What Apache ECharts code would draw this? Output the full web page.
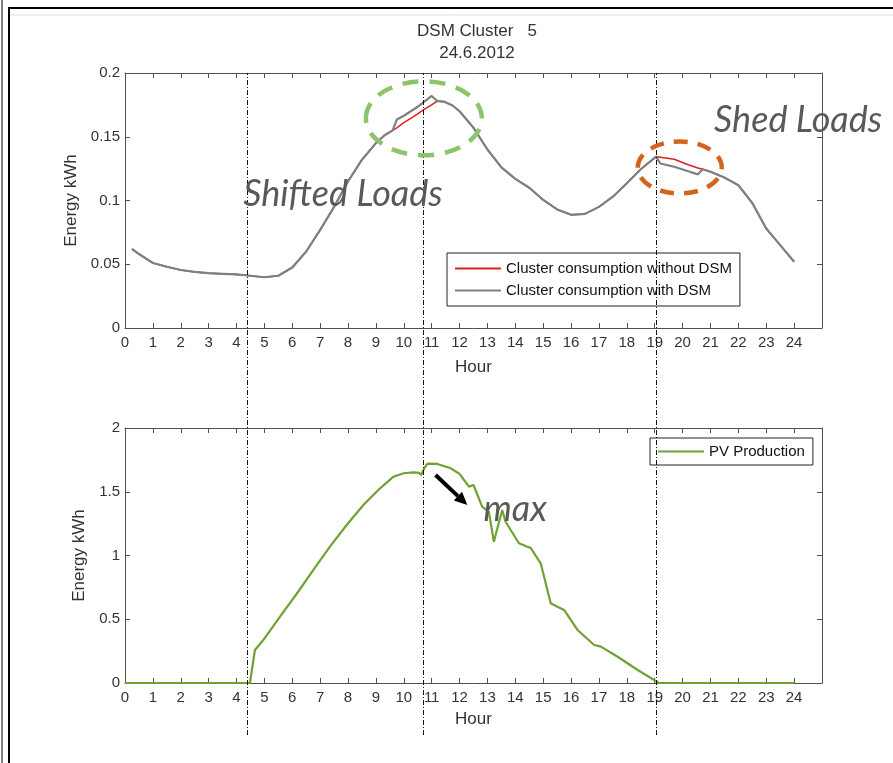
<!DOCTYPE html>
<html>
<head>
<meta charset="utf-8">
<script src="https://cdn.jsdelivr.net/npm/echarts@6/dist/echarts.min.js"></script>
<style>
html,body{margin:0;padding:0;background:#fff;}
#chartDiv{width:893px;height:763px;}
</style>
</head>
<body>
<div id="chartDiv"></div>
<script>
// consumption profile, hours shared by both series
var consHours   = [0.25,0.5,1,1.5,2,2.5,3,3.5,4,4.5,5,5.5,6,6.5,7,7.5,8,8.5,9,9.3,9.6,9.75,10,10.25,10.5,10.7,11,11.2,11.45,11.75,12,12.5,13,13.5,14,14.5,15,15.5,16,16.5,17,17.5,18,18.5,19.05,19.2,19.7,20.2,20.55,20.72,21,21.5,22,22.5,23,23.5,24];
var consWithout = [0.062,0.058,0.051,0.048,0.0455,0.044,0.043,0.0425,0.042,0.041,0.0398,0.041,0.0475,0.060,0.077,0.095,0.115,0.132,0.145,0.151,0.155,0.157,0.161,0.1645,0.168,0.171,0.175,0.178,0.1775,0.1745,0.170,0.157,0.140,0.126,0.117,0.110,0.1005,0.093,0.0888,0.0895,0.095,0.103,0.1135,0.1245,0.1344,0.134,0.1323,0.128,0.1255,0.1245,0.1226,0.118,0.112,0.098,0.078,0.065,0.052];
var consWith    = [0.062,0.058,0.051,0.048,0.0455,0.044,0.043,0.0425,0.042,0.041,0.0398,0.041,0.0475,0.060,0.077,0.095,0.115,0.132,0.145,0.151,0.155,0.1635,0.1665,0.170,0.1735,0.177,0.182,0.178,0.1775,0.1745,0.170,0.157,0.140,0.126,0.117,0.110,0.1005,0.093,0.0888,0.0895,0.095,0.103,0.1135,0.1245,0.1344,0.129,0.1265,0.123,0.1205,0.1245,0.1226,0.118,0.112,0.098,0.078,0.065,0.052];

// PV production
var pvHours  = [0,1,2,3,4,4.48,4.66,4.96,5.56,6.16,6.75,7.35,7.95,8.55,9.15,9.63,9.99,10.35,10.55,10.62,10.75,10.85,11.2,11.68,12.0,12.16,12.34,12.5,12.81,13.05,13.23,13.53,13.65,14.13,14.43,14.55,14.91,15.27,15.51,15.75,16.23,16.83,17.07,17.67,18.39,18.98,19.15,20,21,22,23,24];
var pvValues = [0,0,0,0,0,0,0.259,0.337,0.52,0.70,0.886,1.069,1.239,1.396,1.527,1.618,1.645,1.652,1.648,1.632,1.69,1.72,1.718,1.684,1.64,1.592,1.54,1.553,1.383,1.343,1.108,1.357,1.265,1.096,1.069,1.06,0.939,0.625,0.598,0.573,0.416,0.298,0.285,0.206,0.102,0.024,0,0,0,0,0,0];

// vertical dash-dot markers (hours)
var markHours = [4.4, 10.7, 19.05];

var seriesNames = ['Cluster consumption without DSM', 'Cluster consumption with DSM', 'PV Production'];
var titleLines = ['DSM Cluster   5', '24.6.2012'];
var hourMax = 25;     // axis runs one hour past the last label
var lastHourLabel = 24;

var font = 'Liberation Sans, Arial, sans-serif';
var axisGray = '#505050';
var textGray = '#595959';

var zip = function(xs, ys){
    return xs.map(function(x, i){ return [x, ys[i]]; });
};

var xAxisMain = function(grid, gap){
    return {
        gridIndex: grid, type: 'value', min: 0, max: hourMax, interval: 1, position: 'bottom',
        name: 'Hour', nameLocation: 'middle', nameGap: gap,
        nameTextStyle: {fontFamily: font, fontSize: 17, color: '#333'},
        axisLine: {onZero: false, lineStyle: {color: axisGray}},
        axisTick: {inside: true, length: 5, lineStyle: {color: axisGray}},
        axisLabel: {fontFamily: font, fontSize: 15, color: '#333', margin: 7,
            formatter: function(v){ return v > lastHourLabel ? '' : v; }},
        splitLine: {show: false}
    };
};
var xAxisMirror = function(grid){
    return {
        gridIndex: grid, type: 'value', min: 0, max: hourMax, interval: 1, position: 'top',
        axisLine: {onZero: false, lineStyle: {color: axisGray}},
        axisTick: {inside: true, length: 5, lineStyle: {color: axisGray}},
        axisLabel: {show: false}, splitLine: {show: false}
    };
};
var yAxisMain = function(grid, max, step, gap){
    return {
        gridIndex: grid, type: 'value', min: 0, max: max, interval: step, position: 'left',
        name: 'Energy kWh', nameLocation: 'middle', nameGap: gap,
        nameTextStyle: {fontFamily: font, fontSize: 17, color: '#333'},
        axisLine: {show: true, onZero: false, lineStyle: {color: axisGray}},
        axisTick: {show: true, inside: true, length: 5, lineStyle: {color: axisGray}},
        axisLabel: {fontFamily: font, fontSize: 15, color: '#333', margin: 5},
        splitLine: {show: false}
    };
};
var yAxisMirror = function(grid, max, step){
    return {
        gridIndex: grid, type: 'value', min: 0, max: max, interval: step, position: 'right',
        axisLine: {show: true, onZero: false, lineStyle: {color: axisGray}},
        axisTick: {show: true, inside: true, length: 5, lineStyle: {color: axisGray}},
        axisLabel: {show: false}, splitLine: {show: false}
    };
};

var myChart = echarts.init(document.getElementById('chartDiv'), null, {renderer: 'canvas'});

var option = {
    animation: false,
    backgroundColor: '#fff',
    title: {
        text: titleLines.join('\n'),
        left: 472, top: 15, textAlign: 'center',
        textStyle: {fontFamily: font, fontSize: 17, fontWeight: 'normal', color: '#333', lineHeight: 22}
    },
    grid: [
        {left: 125, top: 73, width: 697, height: 255},
        {left: 125, top: 428, width: 697, height: 255},
        {left: 125, top: 73, width: 697, height: 662}   // overlay for the dash-dot lines
    ],
    xAxis: [
        xAxisMain(0, 31), xAxisMirror(0),
        xAxisMain(1, 28), xAxisMirror(1),
        {gridIndex: 2, type: 'value', min: 0, max: hourMax, show: false}
    ],
    yAxis: [
        yAxisMain(0, 0.2, 0.05, 39), yAxisMirror(0, 0.2, 0.05),
        yAxisMain(1, 2, 0.5, 24), yAxisMirror(1, 2, 0.5),
        {gridIndex: 2, type: 'value', min: 0, max: 1, show: false}
    ],
    legend: [
        {
            data: [seriesNames[0], seriesNames[1]],
            orient: 'vertical', left: 447, top: 253,
            icon: 'rect', itemWidth: 46, itemHeight: 2, itemGap: 7, padding: [8, 8, 8, 8],
            borderColor: '#222', borderWidth: 1, borderRadius: 0, backgroundColor: '#fff',
            selectedMode: false,
            textStyle: {fontFamily: font, fontSize: 15, color: '#111'}
        },
        {
            data: [seriesNames[2]],
            orient: 'vertical', left: 650, top: 438,
            icon: 'rect', itemWidth: 46, itemHeight: 2, padding: [6, 8, 6, 8],
            borderColor: '#222', borderWidth: 1, borderRadius: 0, backgroundColor: '#fff',
            selectedMode: false,
            textStyle: {fontFamily: font, fontSize: 15, color: '#111'}
        }
    ],
    series: [
        {
            name: seriesNames[0], type: 'line', xAxisIndex: 0, yAxisIndex: 0,
            data: zip(consHours, consWithout), symbol: 'none', smooth: false, z: 2,
            itemStyle: {color: '#e01e1e'}, lineStyle: {color: '#e01e1e', width: 1.5}
        },
        {
            name: seriesNames[1], type: 'line', xAxisIndex: 0, yAxisIndex: 0,
            data: zip(consHours, consWith), symbol: 'none', smooth: false, z: 3,
            itemStyle: {color: '#7f7f7f'}, lineStyle: {color: '#7f7f7f', width: 2.2}
        },
        {
            name: seriesNames[2], type: 'line', xAxisIndex: 2, yAxisIndex: 2,
            data: zip(pvHours, pvValues), symbol: 'none', z: 3,
            itemStyle: {color: '#70a232'}, lineStyle: {color: '#70a232', width: 2.2}
        },
        {
            type: 'line', xAxisIndex: 4, yAxisIndex: 4, data: [], z: 10, silent: true,
            markLine: {
                silent: true, symbol: 'none', animation: false,
                label: {show: false},
                lineStyle: {color: '#111', width: 1, type: [5, 2, 1, 2]},
                data: markHours.map(function(h){ return {xAxis: h}; })
            }
        }
    ]
};

myChart.setOption(option);

// annotations, anchored to data positions
var px = function(grid, h, v){
    return myChart.convertToPixel({gridIndex: grid}, [h, v]);
};
var green = px(0, 10.72, 0.1645);
var orange = px(0, 19.9, 0.1259);
var shifted = px(0, 4.24, 0.105);
var shed = px(0, 21.13, 0.163);
var maxTxt = px(1, 12.86, 1.365);
var arrTail = px(1, 11.14, 1.631);
var arrTip = px(1, 12.28, 1.396);

var ang = Math.atan2(arrTip[1] - arrTail[1], arrTip[0] - arrTail[0]);
var headLen = 13, headW = 6;
var base = [arrTip[0] - headLen * Math.cos(ang), arrTip[1] - headLen * Math.sin(ang)];
var head = [
    arrTip,
    [base[0] + headW * Math.sin(ang), base[1] - headW * Math.cos(ang)],
    [base[0] - headW * Math.sin(ang), base[1] + headW * Math.cos(ang)]
];

var annFont = 'italic 36px Lato, "Open Sans", sans-serif';

myChart.setOption({
    graphic: [
        // page frame
        {type: 'line', shape: {x1: 2, y1: 0, x2: 2, y2: 763}, style: {stroke: '#555', lineWidth: 1.5}, silent: true},
        {type: 'line', shape: {x1: 9, y1: 8, x2: 9, y2: 763}, style: {stroke: '#000', lineWidth: 2}, silent: true},
        {type: 'line', shape: {x1: 8, y1: 8, x2: 893, y2: 8}, style: {stroke: '#000', lineWidth: 2}, silent: true},
        {type: 'line', shape: {x1: 10, y1: 15, x2: 893, y2: 15}, style: {stroke: '#ddd', lineWidth: 1}, silent: true},
        // circled regions
        {type: 'ellipse', shape: {cx: green[0], cy: green[1], rx: 58, ry: 37}, z: 20, silent: true,
            style: {fill: 'none', stroke: '#8cc46c', lineWidth: 4.5, lineDash: [16, 11]}},
        {type: 'ellipse', shape: {cx: orange[0], cy: orange[1], rx: 42, ry: 26}, z: 20, silent: true,
            style: {fill: 'none', stroke: '#d2651e', lineWidth: 4.5, lineDash: [14, 10]}},
        // text notes
        {type: 'text', x: shifted[0], y: shifted[1], z: 20, silent: true,
            style: {text: 'Shifted Loads', font: annFont, fill: textGray, textAlign: 'left', textVerticalAlign: 'middle'}},
        {type: 'text', x: shed[0], y: shed[1], z: 20, silent: true,
            style: {text: 'Shed Loads', font: annFont, fill: textGray, textAlign: 'left', textVerticalAlign: 'middle'}},
        {type: 'text', x: maxTxt[0], y: maxTxt[1], z: 20, silent: true,
            style: {text: 'max', font: annFont, fill: textGray, textAlign: 'left', textVerticalAlign: 'middle'}},
        // arrow
        {type: 'line', shape: {x1: arrTail[0], y1: arrTail[1], x2: base[0], y2: base[1]}, z: 20, silent: true,
            style: {stroke: '#000', lineWidth: 4}},
        {type: 'polygon', shape: {points: head}, z: 20, silent: true, style: {fill: '#000'}}
    ]
});
</script>
</body>
</html>
